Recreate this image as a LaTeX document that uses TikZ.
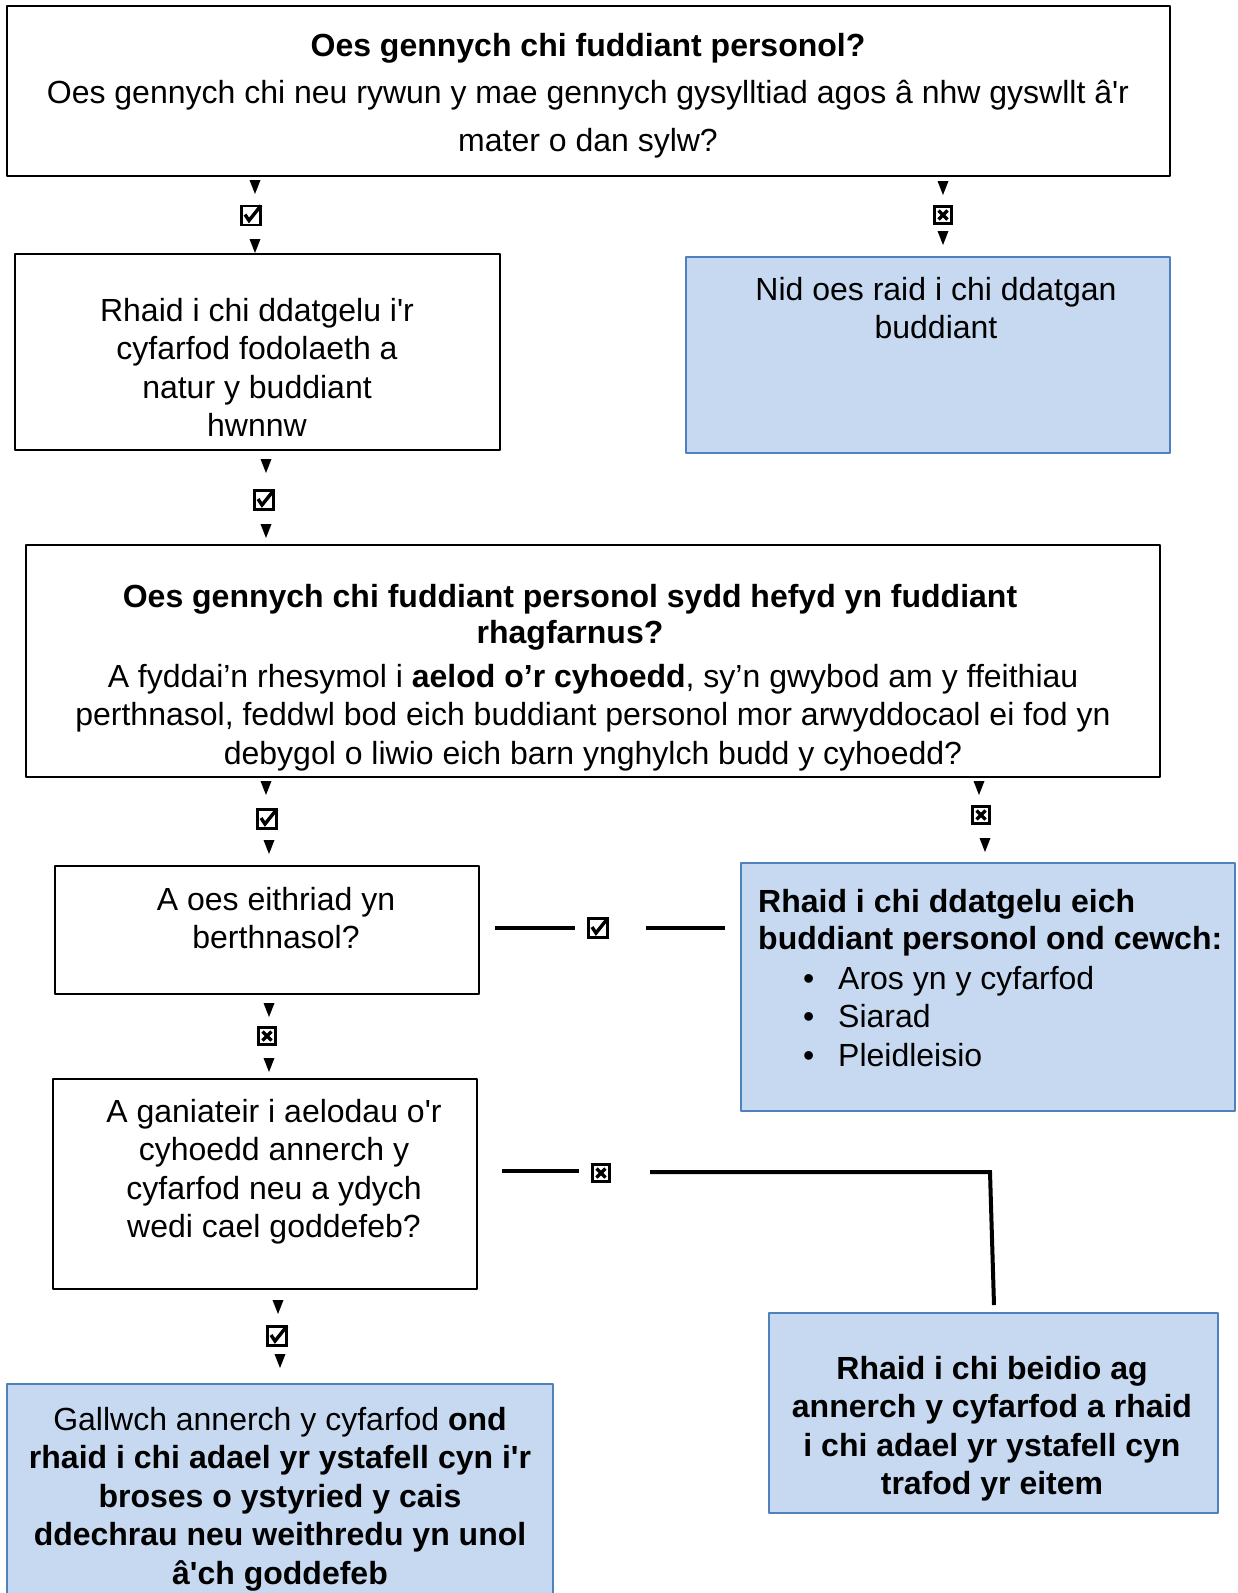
\documentclass[tikz,border=0pt]{standalone}
\usepackage{fontspec}
\setmainfont{Liberation Sans}[Ligatures=TeXOff]
\definecolor{boxblue}{HTML}{C6D9F1}
\definecolor{edgeblue}{HTML}{4F81BD}
\begin{document}
\begin{tikzpicture}[x=1pt,y=-1pt,line cap=round,line join=round,
	plain/.style={draw=black,line width=1.5pt,inner sep=0pt},
	shaded/.style={draw=edgeblue,fill=boxblue,line width=1.5pt,inner sep=0pt},
	txt/.style={inner sep=0pt,align=center,anchor=north,font=\fontsize{32}{38.5}\selectfont},
	yesbox/.style={draw,line width=2.6pt,line join=miter,minimum size=19pt,inner sep=0pt},
	nobox/.style={draw,line width=2.8pt,line join=miter,minimum size=17pt,inner sep=0pt},
	tickline/.style={line width=3.4pt,line cap=butt,line join=miter},
	link/.style={line width=4pt,line cap=butt}]
	\clip (0,0) rectangle (1237,1593);
	\node[plain,minimum width=1163pt,minimum height=170pt] (b1) at (588.5,91) {};
	\node[plain,minimum width=485pt,minimum height=196pt] (b2) at (257.5,352) {};
	\node[shaded,minimum width=484pt,minimum height=196pt] (b3) at (928,355) {};
	\node[plain,minimum width=1134pt,minimum height=232pt] (b4) at (593,661) {};
	\node[plain,minimum width=424pt,minimum height=128pt] (b5) at (267,930) {};
	\node[shaded,minimum width=494pt,minimum height=248pt] (b6) at (988,987) {};
	\node[plain,minimum width=424pt,minimum height=210pt] (b7) at (265,1184) {};
	\node[shaded,minimum width=449pt,minimum height=200pt] (b8) at (993.5,1413) {};
	\node[shaded,minimum width=546pt,minimum height=230pt] (b9) at (280,1499) {};
	\node[txt,font=\fontsize{32}{47.5}\selectfont] (t1) at (588,33) {\textbf{Oes gennych chi fuddiant personol?}\\Oes gennych chi neu rywun y mae gennych gysylltiad agos â nhw gyswllt â'r\\mater o dan sylw?};
	\node[txt] (t2) at (257,298) {Rhaid i chi ddatgelu i'r\\cyfarfod fodolaeth a\\natur y buddiant\\hwnnw};
	\node[txt] (t3) at (936,277) {Nid oes raid i chi ddatgan\\buddiant};
	\node[txt,font=\bfseries\fontsize{32}{36}\selectfont] (t4a) at (570,584) {Oes gennych chi fuddiant personol sydd hefyd yn fuddiant\\rhagfarnus?};
	\node[txt] (t4b) at (593,664) {A fyddai’n rhesymol i \textbf{aelod o’r cyhoedd}, sy’n gwybod am y ffeithiau\\perthnasol, feddwl bod eich buddiant personol mor arwyddocaol ei fod yn\\debygol o liwio eich barn ynghylch budd y cyhoedd?};
	\node[txt] (t5) at (276,887) {A oes eithriad yn\\berthnasol?};
	\node[txt,align=left,anchor=north west,font=\bfseries\fontsize{32}{37}\selectfont] (t6a) at (758,889) {Rhaid i chi ddatgelu eich\\buddiant personol ond cewch:};
	\node[txt,align=left,anchor=north west] (t6b) at (803,966) {\makebox[35pt][l]{•}Aros yn y cyfarfod\\\makebox[35pt][l]{•}Siarad\\\makebox[35pt][l]{•}Pleidleisio};
	\node[txt] (t7) at (274,1099) {A ganiateir i aelodau o'r\\cyhoedd annerch y\\cyfarfod neu a ydych\\wedi cael goddefeb?};
	\node[txt,font=\bfseries\fontsize{32}{38.5}\selectfont] (t8) at (992,1356) {Rhaid i chi beidio ag\\annerch y cyfarfod a rhaid\\i chi adael yr ystafell cyn\\trafod yr eitem};
	\node[txt] (t9) at (280,1407) {Gallwch annerch y cyfarfod \textbf{ond}\\\textbf{rhaid i chi adael yr ystafell cyn i'r}\\\textbf{broses o ystyried y cais}\\\textbf{ddechrau neu weithredu yn unol}\\\textbf{â'ch goddefeb}};
	\coordinate (s1a) at (255,187);
	\node[yesbox] (s1b) at (251,215.5) {};
	\coordinate (s1c) at (255,246);
	\coordinate (s2a) at (943,188);
	\node[nobox] (s2b) at (943,215) {};
	\coordinate (s2c) at (943,238);
	\coordinate (s3a) at (266,466);
	\node[yesbox] (s3b) at (264,500) {};
	\coordinate (s3c) at (266,531);
	\coordinate (s4a) at (266,788);
	\node[yesbox] (s4b) at (267,819) {};
	\coordinate (s4c) at (269,847);
	\coordinate (s5a) at (979,788);
	\node[nobox] (s5b) at (981,815) {};
	\coordinate (s5c) at (985,845);
	\coordinate (s6a) at (269,1010);
	\node[nobox] (s6b) at (267,1036) {};
	\coordinate (s6c) at (269,1065);
	\coordinate (s7a) at (278,1307);
	\node[yesbox] (s7b) at (277,1336) {};
	\coordinate (s7c) at (280,1361);
	\node[yesbox] (h1) at (598,928) {};
	\node[nobox] (h2) at (601,1173) {};
	\fill (s1a) +(-5.5,-7) -- +(5.5,-7) -- +(0,7) -- cycle;
	\fill (s1c) +(-5.5,-7) -- +(5.5,-7) -- +(0,7) -- cycle;
	\fill (s2a) +(-5.5,-7) -- +(5.5,-7) -- +(0,7) -- cycle;
	\fill (s2c) +(-5.5,-7) -- +(5.5,-7) -- +(0,7) -- cycle;
	\fill (s3a) +(-5.5,-7) -- +(5.5,-7) -- +(0,7) -- cycle;
	\fill (s3c) +(-5.5,-7) -- +(5.5,-7) -- +(0,7) -- cycle;
	\fill (s4a) +(-5.5,-7) -- +(5.5,-7) -- +(0,7) -- cycle;
	\fill (s4c) +(-5.5,-7) -- +(5.5,-7) -- +(0,7) -- cycle;
	\fill (s5a) +(-5.5,-7) -- +(5.5,-7) -- +(0,7) -- cycle;
	\fill (s5c) +(-5.5,-7) -- +(5.5,-7) -- +(0,7) -- cycle;
	\fill (s6a) +(-5.5,-7) -- +(5.5,-7) -- +(0,7) -- cycle;
	\fill (s6c) +(-5.5,-7) -- +(5.5,-7) -- +(0,7) -- cycle;
	\fill (s7a) +(-5.5,-7) -- +(5.5,-7) -- +(0,7) -- cycle;
	\fill (s7c) +(-5.5,-7) -- +(5.5,-7) -- +(0,7) -- cycle;
	\draw[tickline] (s1b) +(-6,-1) -- +(-2,5) -- +(10,-10);
	\draw[tickline] (s3b) +(-6,-1) -- +(-2,5) -- +(10,-10);
	\draw[tickline] (s4b) +(-6,-1) -- +(-2,5) -- +(10,-10);
	\draw[tickline] (s7b) +(-6,-1) -- +(-2,5) -- +(10,-10);
	\draw[tickline] (h1) +(-6,-1) -- +(-2,5) -- +(10,-10);
	\draw[tickline] (s2b) +(-4.5,-4.5) -- +(4.5,4.5) +(4.5,-4.5) -- +(-4.5,4.5);
	\draw[tickline] (s5b) +(-4.5,-4.5) -- +(4.5,4.5) +(4.5,-4.5) -- +(-4.5,4.5);
	\draw[tickline] (s6b) +(-4.5,-4.5) -- +(4.5,4.5) +(4.5,-4.5) -- +(-4.5,4.5);
	\draw[tickline] (h2) +(-4.5,-4.5) -- +(4.5,4.5) +(4.5,-4.5) -- +(-4.5,4.5);
	\coordinate (h1a) at (495,928);
	\coordinate (h1b) at (575,928);
	\coordinate (h1c) at (646,928);
	\coordinate (h1d) at (725,928);
	\coordinate (h2a) at (502,1171);
	\coordinate (h2b) at (579,1171);
	\coordinate (h2c) at (650,1172);
	\coordinate (h2d) at (990,1172);
	\coordinate (h2e) at (994,1305);
	\draw[link] (h1a) -- (h1b);
	\draw[link] (h1c) -- (h1d);
	\draw[link] (h2a) -- (h2b);
	\draw[link,line join=miter] (h2c) -- (h2d) -- (h2e);
\end{tikzpicture}
\end{document}
